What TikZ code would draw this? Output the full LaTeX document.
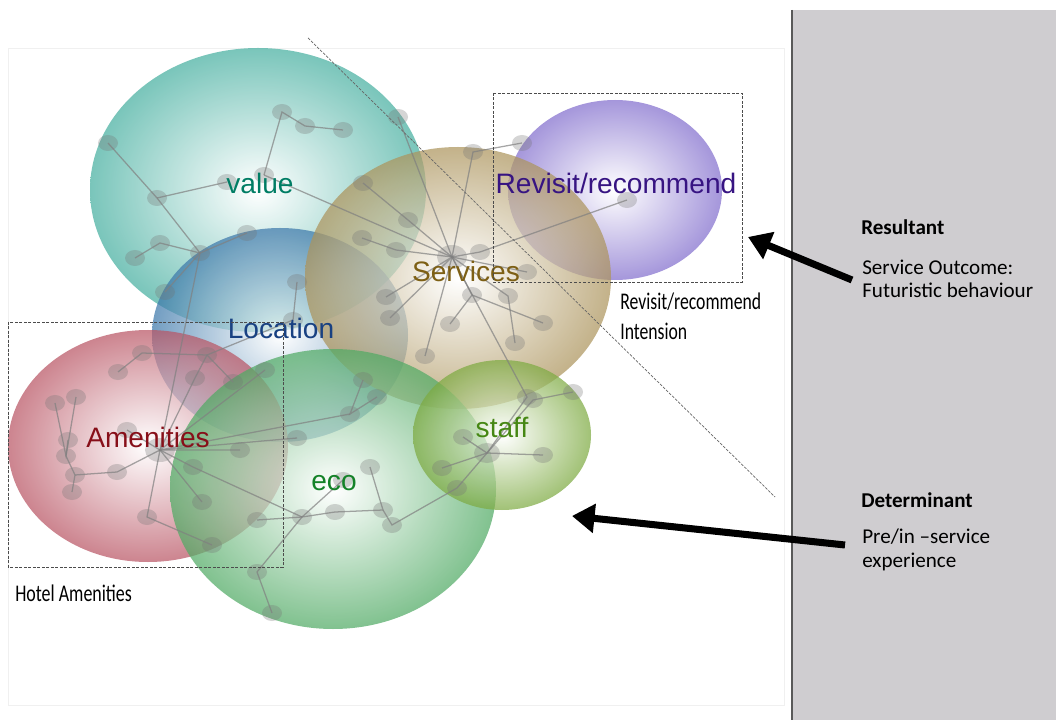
\documentclass[tikz,border=0pt]{standalone}
\usepackage{fontspec}
\setmainfont{Liberation Sans}
\newfontfamily\calibri{Carlito}
\usetikzlibrary{shapes.geometric,arrows.meta}
\definecolor{valuecol}{RGB}{70,175,160}
\definecolor{loccol}{RGB}{60,120,170}
\definecolor{srvcol}{RGB}{172,148,92}
\definecolor{revcol}{RGB}{130,110,205}
\definecolor{amencol}{RGB}{185,85,100}
\definecolor{ecocol}{RGB}{80,170,100}
\definecolor{staffcol}{RGB}{125,170,65}
\definecolor{panelgray}{RGB}{207,205,208}
\definecolor{valueink}{RGB}{0,125,100}
\definecolor{locink}{RGB}{25,65,130}
\definecolor{srvink}{RGB}{125,95,20}
\definecolor{revink}{RGB}{55,20,130}
\definecolor{amenink}{RGB}{135,15,25}
\definecolor{ecoink}{RGB}{20,130,40}
\definecolor{staffink}{RGB}{70,135,20}

\begin{document}
\begin{tikzpicture}[
		x=0.025cm, y=-0.025cm,
		bubble/.style={opacity=.72, inner color=white},
		knot/.style={ellipse, fill=black!55, fill opacity=.3, inner sep=0,
			minimum width=.5cm, minimum height=.4cm},
		bighub/.style={knot, minimum width=.75cm, minimum height=.6cm},
		linkline/.style={draw=black!50, draw opacity=.7, line width=.9pt},
		tagtext/.style={font=\fontsize{20}{24}\selectfont},
		boxframe/.style={draw=black!70, dash pattern=on 2pt off 1.2pt, line width=.7pt},
		note/.style={font=\calibri\fontsize{15}{16.5}\selectfont, align=left, inner sep=0},
		squeezed/.style={font=\calibri\fontsize{17}{21}\selectfont, align=left, inner sep=0},
		bigarrow/.style={line width=5pt, -{Triangle[length=16pt,width=20pt]}},
	]
	\useasboundingbox (0,0) rectangle (1056,720);
	% grey panel on the right
	\fill[panelgray] (792,10) rectangle (1056,720);
	\draw[black!65, line width=1pt] (792,10) -- (792,720);
	\draw[black!6] (8,48) rectangle (784,705);
	% the bubbles
	\shade[bubble, outer color=valuecol] (258,190) ellipse [x radius=168, y radius=142];
	\shade[bubble, outer color=loccol] (280,335) ellipse [x radius=128, y radius=107];
	\shade[bubble, outer color=revcol] (615,190) ellipse [x radius=107, y radius=90];
	\shade[bubble, outer color=srvcol] (458,278) ellipse [x radius=153, y radius=131];
	\shade[bubble, outer color=amencol] (148,446) ellipse [x radius=140, y radius=116];
	\shade[bubble, outer color=ecocol] (333,489) ellipse [x radius=163, y radius=140];
	\shade[bubble, outer color=staffcol] (502,435) ellipse [x radius=89, y radius=75];
	% value cluster
	\node[knot] (v1) at (108,143) {};
	\node[knot] (v2) at (157,198) {};
	\node[knot] (v3) at (227,182) {};
	\node[knot] (v4) at (264,175) {};
	\node[knot] (v5) at (282,112) {};
	\node[knot] (v6) at (305,126) {};
	\node[knot] (v7) at (343,130) {};
	\node[knot] (v8) at (200,253) {};
	\node[knot] (v9) at (160,243) {};
	\node[knot] (v10) at (135,258) {};
	\node[knot] (v11) at (247,233) {};
	\node[knot] (v12) at (165,292) {};
	\node[knot] (v13) at (398,117) {};
	% location cluster
	\node[knot] (l1) at (297,282) {};
	\node[knot] (l2) at (293,320) {};
	\node[knot] (l3) at (142,353) {};
	\node[knot] (l4) at (118,372) {};
	\node[knot] (l5) at (207,355) {};
	\node[knot] (l6) at (195,378) {};
	\node[knot] (l7) at (233,382) {};
	\node[knot] (l8) at (265,370) {};
	\node[knot] (l9) at (363,380) {};
	\node[knot] (l10) at (377,397) {};
	\node[knot] (l11) at (350,414) {};
	\node[knot] (l12) at (297,438) {};
	% services cluster
	\node[bighub] (s0) at (452,257) {};
	\node[knot] (s1) at (363,183) {};
	\node[knot] (s2) at (408,220) {};
	\node[knot] (s3) at (362,238) {};
	\node[knot] (s4) at (396,250) {};
	\node[knot] (s5) at (473,152) {};
	\node[knot] (s6) at (522,143) {};
	\node[knot] (s7) at (480,252) {};
	\node[knot] (s8) at (386,297) {};
	\node[knot] (s9) at (390,318) {};
	\node[knot] (s10) at (472,295) {};
	\node[knot] (s11) at (450,324) {};
	\node[knot] (s12) at (508,296) {};
	\node[knot] (s13) at (515,343) {};
	\node[knot] (s14) at (527,272) {};
	\node[knot] (s15) at (543,323) {};
	\node[knot] (s16) at (425,356) {};
	\node[knot] (s17) at (527,397) {};
	\node[knot] (r1) at (627,200) {};
	% amenities cluster
	\node[bighub] (a0) at (160,450) {};
	\node[knot] (a1) at (55,403) {};
	\node[knot] (a2) at (76,397) {};
	\node[knot] (a3) at (68,440) {};
	\node[knot] (a4) at (66,456) {};
	\node[knot] (a5) at (75,475) {};
	\node[knot] (a6) at (72,492) {};
	\node[knot] (a7) at (117,472) {};
	\node[knot] (a8) at (127,430) {};
	\node[knot] (a9) at (193,467) {};
	\node[knot] (a10) at (202,502) {};
	\node[knot] (a11) at (240,450) {};
	\node[knot] (a12) at (147,517) {};
	\node[knot] (a13) at (212,545) {};
	% eco and staff clusters
	\node[knot] (e1) at (257,520) {};
	\node[knot] (e2) at (302,517) {};
	\node[knot] (e3) at (335,512) {};
	\node[knot] (e4) at (383,510) {};
	\node[knot] (e5) at (392,525) {};
	\node[knot] (e6) at (370,467) {};
	\node[knot] (e7) at (343,480) {};
	\node[knot] (e8) at (257,572) {};
	\node[knot] (e9) at (272,613) {};
	\node[knot, minimum width=.65cm, minimum height=.5cm] (t0) at (487,453) {};
	\node[knot] (t1) at (463,437) {};
	\node[knot] (t2) at (442,468) {};
	\node[knot] (t3) at (457,488) {};
	\node[knot] (t4) at (543,455) {};
	\node[knot] (t5) at (533,400) {};
	\node[knot] (t6) at (573,392) {};
	% the links
	\draw[linkline] (v1.center) -- (v2.center) -- (v8.center) -- (a0.center);
	\draw[linkline] (v2.center) -- (v3.center);
	\draw[linkline] (v4.center) -- (v5.center) -- (v6.center) -- (v7.center);
	\draw[linkline] (v10.center) -- (v9.center) -- (v8.center) -- (v11.center);
	\draw[linkline] (v8.center) -- (v12.center);
	\draw[linkline] (v4.center) -- (s0.center) -- (v13.center);
	\draw[linkline] (l1.center) -- (l2.center) -- (l5.center) -- (l3.center) -- (l4.center);
	\draw[linkline] (l7.center) -- (l5.center) -- (l6.center) -- (a0.center) -- (l8.center);
	\draw[linkline] (l9.center) -- (l11.center) -- (l10.center);
	\draw[linkline] (l11.center) -- (a0.center) -- (l12.center);
	\draw[linkline] (s1.center) -- (s2.center) -- (s0.center) -- (s4.center) -- (s3.center);
	\draw[linkline] (s6.center) -- (s5.center) -- (s0.center) -- (s7.center) -- (r1.center);
	\draw[linkline] (s8.center) -- (s0.center) -- (s9.center);
	\draw[linkline] (s11.center) -- (s10.center) -- (s0.center) -- (s12.center) -- (s13.center);
	\draw[linkline] (s10.center) -- (s15.center);
	\draw[linkline] (s14.center) -- (s0.center) -- (s16.center);
	\draw[linkline] (s0.center) -- (s17.center) -- (t0.center);
	\draw[linkline] (a1.center) -- (a4.center) -- (a2.center);
	\draw[linkline] (a3.center) -- (a4.center) -- (a5.center) -- (a6.center);
	\draw[linkline] (a5.center) -- (a7.center) -- (a0.center) -- (a8.center);
	\draw[linkline] (a10.center) -- (a0.center) -- (a11.center);
	\draw[linkline] (a13.center) -- (a12.center) -- (a0.center) -- (a9.center) -- (e2.center);
	\draw[linkline] (e1.center) -- (e2.center) -- (e3.center) -- (e4.center) -- (e6.center);
	\draw[linkline] (e4.center) -- (e5.center) -- (t3.center) -- (t0.center);
	\draw[linkline] (e2.center) -- (e7.center);
	\draw[linkline] (e2.center) -- (e8.center) -- (e9.center);
	\draw[linkline] (t1.center) -- (t0.center) -- (t2.center);
	\draw[linkline] (t4.center) -- (t0.center) -- (t5.center) -- (t6.center);
	% bubble names
	\node[tagtext, text=valueink] (value) at (260,183) {value};
	\node[tagtext, text=locink] (location) at (281,328) {Location};
	\node[tagtext, text=srvink] (services) at (466,271) {Services};
	\node[tagtext, text=revink] (revisit) at (616,183) {Revisit/recommend};
	\node[tagtext, text=amenink] (amenities) at (148,437) {Amenities};
	\node[tagtext, text=ecoink] (eco) at (334,483) {eco};
	\node[tagtext, text=staffink] (staff) at (502,427) {staff};
	% dashed frames and the diagonal
	\draw[boxframe] (493,93) rectangle (742,282);
	\draw[boxframe] (8,322) rectangle (283,567);
	\coordinate (cutstart) at (308,38);
	\coordinate (cutend) at (775,497);
	\draw[black!60, dash pattern=on 2pt off 1pt, line width=.5pt] (cutstart) -- (cutend);
	\node[squeezed, anchor=north west] (intension) at (620,293) {\scalebox{.74}[1]{Revisit/recommend}\\\scalebox{.74}[1]{Intension}};
	\node[squeezed, anchor=north west] (hotel) at (15,585) {\scalebox{.75}[1]{Hotel Amenities}};
	% right panel text
	\node[note, anchor=base west, font=\calibri\bfseries\fontsize{15}{16.5}\selectfont] (resultant) at (861,235) {Resultant};
	\node[note, anchor=north west] (outcome) at (862,260) {Service Outcome:\\Futuristic behaviour};
	\node[note, anchor=base west, font=\calibri\bfseries\fontsize{15}{16.5}\selectfont] (determinant) at (861,507) {Determinant};
	\node[note, anchor=north west] (experience) at (862,529) {Pre/in –service\\experience};
	% arrows
	\coordinate (restail) at (852,280);
	\coordinate (reshead) at (748,237);
	\coordinate (dettail) at (845,545);
	\coordinate (dethead) at (572,516);
	\draw[bigarrow] (restail) -- (reshead);
	\draw[bigarrow] (dettail) -- (dethead);
\end{tikzpicture}
\end{document}
